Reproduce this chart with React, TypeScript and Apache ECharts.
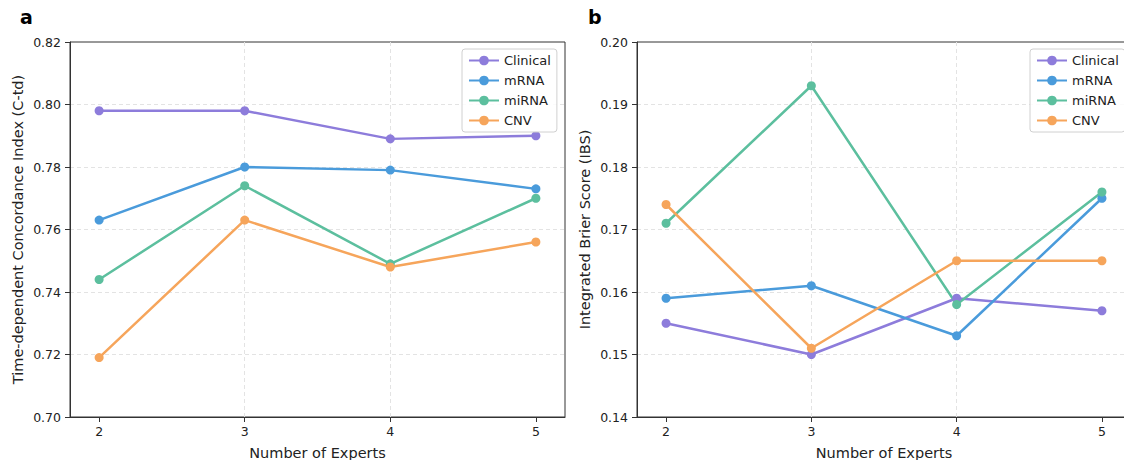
import React, { useEffect, useRef } from "react";
import * as echarts from "echarts";

const experts = [2, 3, 4, 5];
const seriesNames = ["Clinical", "mRNA", "miRNA", "CNV"];
const colors = ["#8d7cdb", "#4a9bdb", "#5cbf9e", "#f6a55b"];

const ctdClinical = [0.798, 0.798, 0.789, 0.79];
const ctdMrna = [0.763, 0.78, 0.779, 0.773];
const ctdMirna = [0.744, 0.774, 0.749, 0.77];
const ctdCnv = [0.719, 0.763, 0.748, 0.756];

const ibsClinical = [0.155, 0.15, 0.159, 0.157];
const ibsMrna = [0.159, 0.161, 0.153, 0.175];
const ibsMirna = [0.171, 0.193, 0.158, 0.176];
const ibsCnv = [0.174, 0.151, 0.165, 0.165];

const FONT = "DejaVu Sans";

export default function App() {
  const ref = useRef<HTMLDivElement>(null);
  useEffect(() => {
    if (!ref.current) return;
    const chart = echarts.init(ref.current, null, { renderer: "svg" });
    const gridLine = {
      show: true,
      showMinLine: false,
      showMaxLine: false,
      lineStyle: { color: "#e3e3e3", type: [4, 3], width: 1 },
    };
    const xAxisBase = (gridIndex: number) => ({
      type: "value",
      gridIndex,
      min: 1.8,
      max: 5.2,
      name: "Number of Experts",
      nameLocation: "middle",
      nameGap: 28,
      nameTextStyle: { fontFamily: FONT, fontSize: 14.5, color: "#222" },
      axisLine: { show: true, lineStyle: { color: "#333", width: 1 } },
      axisTick: { show: true, length: 5, customValues: experts, lineStyle: { color: "#333" } },
      axisLabel: { customValues: experts, fontFamily: FONT, fontSize: 12.5, color: "#222", margin: 8 },
      splitLine: gridLine,
    });
    const yAxisBase = (gridIndex: number, min: number, max: number, interval: number, name: string, gap: number) => ({
      type: "value",
      gridIndex,
      min,
      max,
      interval,
      name,
      nameLocation: "middle",
      nameGap: gap,
      nameTextStyle: { fontFamily: FONT, fontSize: 14.5, color: "#222" },
      axisLine: { show: true, lineStyle: { color: "#333", width: 1 } },
      axisTick: { show: true, length: 5, lineStyle: { color: "#333" } },
      axisLabel: {
        fontFamily: FONT,
        fontSize: 12.5,
        color: "#222",
        margin: 9,
        formatter: (v: number) => v.toFixed(2),
      },
      splitLine: gridLine,
    });
    const mk = (name: string, data: number[], idx: number, color: string) => ({
      name,
      type: "line",
      xAxisIndex: idx,
      yAxisIndex: idx,
      data: experts.map((x, i) => [x, data[i]]),
      symbol: "circle",
      symbolSize: 9,
      lineStyle: { width: 2.5, color },
      itemStyle: { color },
      z: 3,
    });
    const ctd = [ctdClinical, ctdMrna, ctdMirna, ctdCnv];
    const ibs = [ibsClinical, ibsMrna, ibsMirna, ibsCnv];
    const legendBase = (left: number) => ({
      orient: "vertical",
      left,
      top: 49,
      data: seriesNames,
      itemWidth: 30,
      itemHeight: 12,
      itemGap: 7,
      padding: [5, 6, 5, 6],
      borderColor: "#d0d0d0",
      borderWidth: 1,
      borderRadius: 3,
      backgroundColor: "rgba(255,255,255,0.85)",
      textStyle: { fontFamily: FONT, fontSize: 13, color: "#222" },
    });
    const gridBase = (left: number, width: number) => ({
      left,
      top: 42,
      width,
      height: 375,
      show: true,
      borderColor: "#333",
      borderWidth: 1,
      backgroundColor: "transparent",
      outerBoundsMode: "none",
      containLabel: false,
    });
    chart.setOption({
      animation: false,
      color: colors,
      grid: [gridBase(70, 495), gridBase(637, 494)],
      xAxis: [xAxisBase(0), xAxisBase(1)],
      yAxis: [
        yAxisBase(0, 0.7, 0.82, 0.02, "Time-dependent Concordance Index (C-td)", 45),
        yAxisBase(1, 0.14, 0.2, 0.01, "Integrated Brier Score (IBS)", 45),
      ],
      legend: [legendBase(462), legendBase(1030)],
      series: [
        ...seriesNames.map((n, i) => mk(n, ctd[i], 0, colors[i])),
        ...seriesNames.map((n, i) => mk(n, ibs[i], 1, colors[i])),
      ],
      graphic: [
        { type: "text", left: 20, top: 7, style: { text: "a", fontFamily: FONT, fontSize: 19, fontWeight: "bold", fill: "#000" } },
        { type: "text", left: 588, top: 7, style: { text: "b", fontFamily: FONT, fontSize: 19, fontWeight: "bold", fill: "#000" } },
      ],
    });
    return () => chart.dispose();
  }, []);
  return <div ref={ref} style={{ position: "fixed", left: 0, top: 0, width: 1124, height: 460, background: "#fff" }} />;
}
